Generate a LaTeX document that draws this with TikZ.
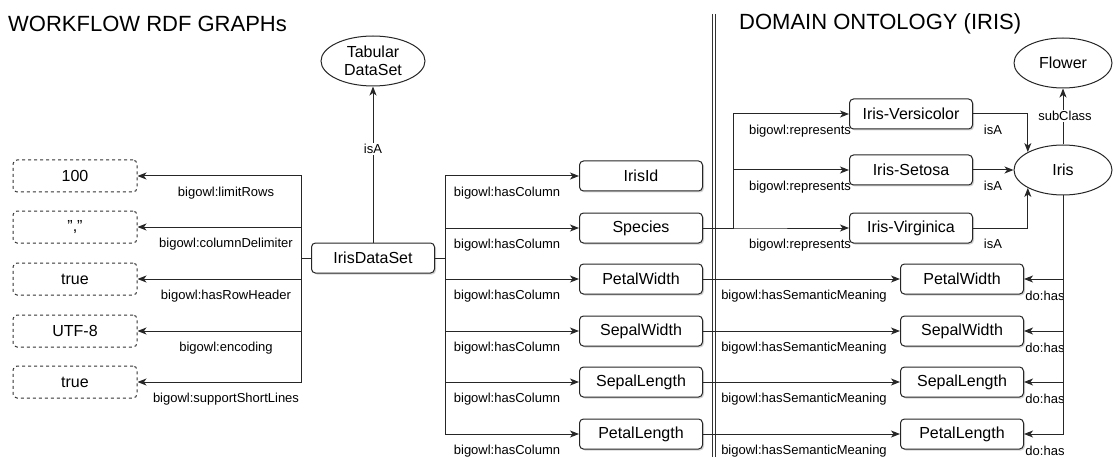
\documentclass[tikz,border=0pt]{standalone}
\usepackage{fontspec}
\setmainfont{Liberation Sans}
\usetikzlibrary{arrows.meta,positioning,calc,shapes.geometric,shadows}
\tikzset{
  lit/.style={draw=black!80, line width=1pt, dashed, rounded corners=4pt, minimum width=124pt, minimum height=32pt, font=\fontsize{16}{19}\selectfont},
  box/.style={draw=black!85, line width=1pt, fill=white, rounded corners=4pt, minimum width=123pt, minimum height=30pt,
    drop shadow={shadow xshift=1.5pt, shadow yshift=-1.5pt, opacity=0.35}, font=\fontsize{16}{19}\selectfont},
  cls/.style={ellipse, draw=black!85, line width=1pt, fill=white, inner sep=0pt, minimum width=98pt, minimum height=50pt, align=center, font=\fontsize{16}{18}\selectfont},
  lbl/.style={font=\fontsize{13}{15}\selectfont, inner sep=1pt},
  title/.style={font=\fontsize{22}{26}\selectfont, anchor=west, inner sep=0pt},
  arrow/.style={-{Stealth[length=9pt,width=7pt,inset=2.5pt]}, draw=black!85, line width=1pt},
}

\begin{document}
\begin{tikzpicture}[x=1pt,y=-1pt]
  \useasboundingbox (0,0) rectangle (1113,457);

  % titles
  \node[title] (wtitle) at (8,24) {WORKFLOW RDF GRAPHs};
  \node[title] (dtitle) at (739,24) {DOMAIN ONTOLOGY (IRIS)};

  % separator
  \draw[black!80, line width=0.9pt] (712,14) -- (712,457);
  \draw[black!80, line width=0.9pt] (715.5,14) -- (715.5,457);

  % dataset
  \node[box] (ids) at (373,258) {IrisDataSet};
  \node[cls, minimum width=104pt] (tab) at (373,61) {Tabular\\DataSet};
  \draw[arrow] (ids) -- (tab);
  \node[lbl, fill=white] (isa0) at (373,149) {isA};

  % literal values
  \foreach \v/\y/\p [count=\i] in {100/176/limitRows, {","}/227/columnDelimiter, true/279/hasRowHeader, UTF-8/331/encoding, true/382/supportShortLines}{
    \node[lit] (l\i) at (75,\y) {\v};
    \draw[arrow] (ids.west) -- ++(-10,0) |- (l\i.east);
    \node[lbl] (ll\i) at (226,\y+17) {bigowl:\p};
  }

  % columns
  \foreach \n/\y [count=\i] in {IrisId/176, Species/228, PetalWidth/279, SepalWidth/331, SepalLength/382, PetalLength/434}{
    \node[box] (c\i) at (641,\y) {\n};
    \draw[arrow] (ids.east) -- ++(10,0) |- (c\i.west);
    \node[lbl] (lc\i) at (507,\y+17) {bigowl:hasColumn};
  }

  % iris classes
  \node[cls] (iris) at (1063,170) {Iris};
  \node[cls] (flower) at (1063,63) {Flower};
  \draw[arrow] (iris) -- (flower);
  \node[lbl, fill=white] (sub) at (1065,116) {subClass};

  \foreach \n/\y [count=\i] in {Iris-Versicolor/114, Iris-Setosa/170, Iris-Virginica/228}{
    \node[box] (r\i) at (911,\y) {\n};
    \draw[arrow] (c2.east) -- ++(30,0) |- (r\i.west);
    \node[lbl] (lr\i) at (800,\y+17) {bigowl:represents};
    \node[lbl] (la\i) at (993,\y+16) {isA};
  }
  \draw[arrow] (r1.east) -| (iris.153);
  \draw[arrow] (r2) -- (iris);
  \draw[arrow] (r3.east) -| (iris.207);

  % semantic meanings
  \foreach \n/\y [count=\i from 3] in {PetalWidth/279, SepalWidth/331, SepalLength/382, PetalLength/434}{
    \node[box] (s\i) at (962,\y) {\n};
    \draw[arrow] (c\i.east) -- (s\i.west);
    \draw[arrow] (iris.south) |- (s\i.east);
    \node[lbl] (ls\i) at (804,\y+17) {bigowl:hasSemanticMeaning};
    \node[lbl] (ld\i) at (1045,\y+17) {do:has};
  }
\end{tikzpicture}
\end{document}
